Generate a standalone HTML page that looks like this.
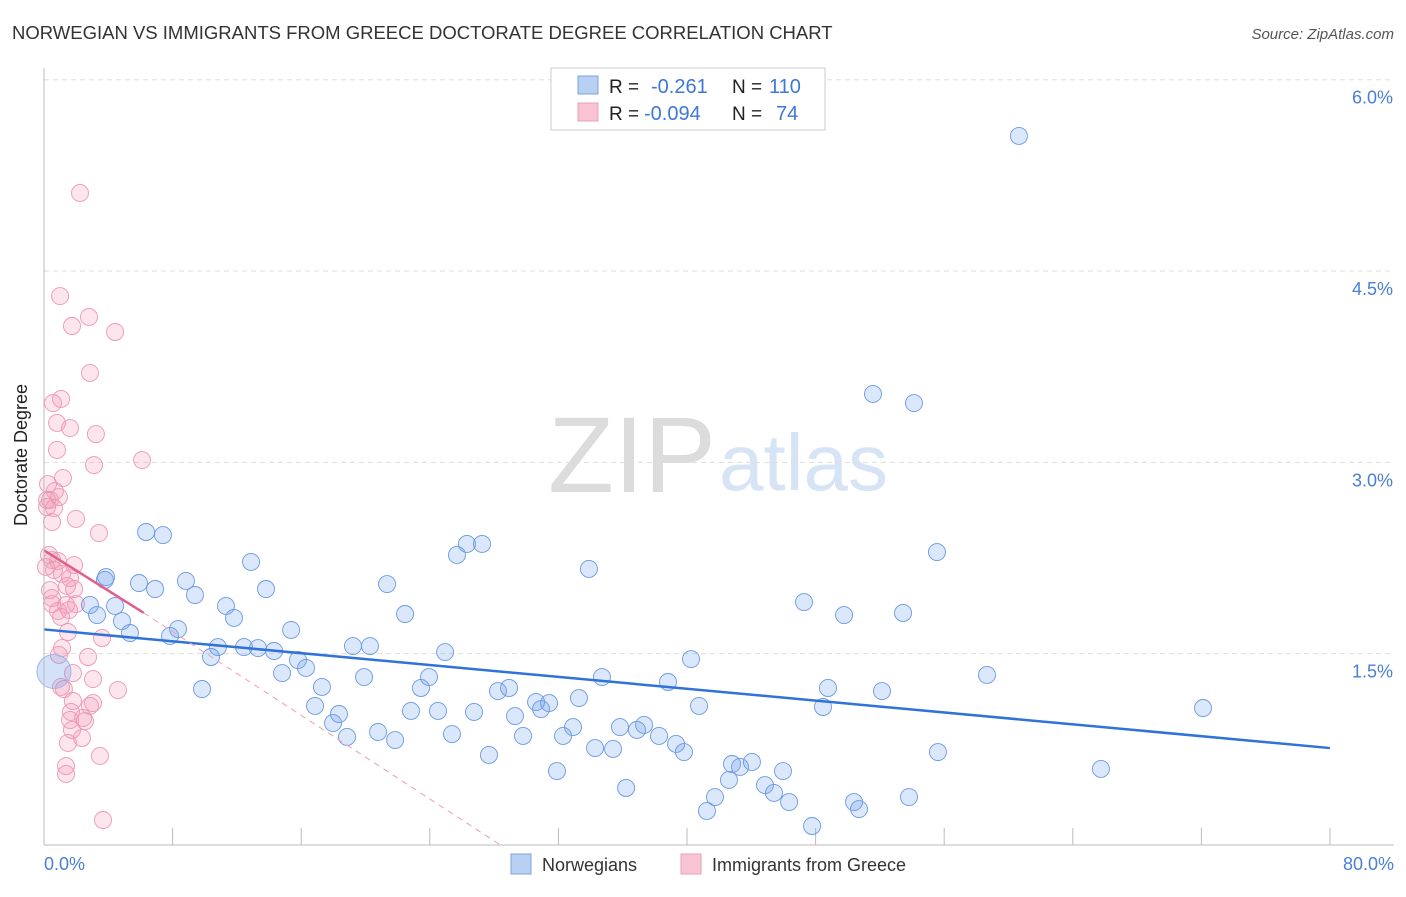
<!DOCTYPE html>
<html><head><meta charset="utf-8"><style>
body{margin:0;background:#fff;font-family:"Liberation Sans",sans-serif}
svg text{font-family:"Liberation Sans",sans-serif}
</style></head><body>
<svg id="c" width="1406" height="892">
<text x="12" y="39" font-size="18.5" fill="#333">NORWEGIAN VS IMMIGRANTS FROM GREECE DOCTORATE DEGREE CORRELATION CHART</text>
<text x="1394" y="39" font-size="15" fill="#555" font-style="italic" text-anchor="end">Source: ZipAtlas.com</text>
<text x="716" y="492" font-size="108" fill="#dcdcdc" font-family="Liberation Serif" text-anchor="end">ZIP</text>
<text x="719" y="490" font-size="80" fill="#d6e4f5">atlas</text>
<g id="grid"></g><g id="pts"></g><g id="lines"></g>
<line x1="44" y1="68" x2="44" y2="845" stroke="#bbb"/>
<line x1="44" y1="845" x2="1394" y2="845" stroke="#bbb"/>
<text x="27" y="455" font-size="18" fill="#222" text-anchor="middle" transform="rotate(-90 27 455)">Doctorate Degree</text>
<text x="44" y="870" font-size="18" fill="#4a7fd6">0.0%</text>
<text x="1394" y="870" font-size="18" fill="#4a7fd6" text-anchor="end">80.0%</text>
<g>
<rect x="551" y="68" width="274" height="62" fill="#fff" stroke="#ccc"/>
<rect x="578" y="76" width="20" height="18" fill="#b8d0f2" stroke="#7aa4e0"/>
<rect x="578" y="103" width="20" height="18" fill="#f8c4d4" stroke="#e9a0b8"/>
<text x="609" y="93" font-size="19" fill="#222">R =</text><text x="651" y="93" font-size="20" fill="#3d78d6">-0.261</text>
<text x="732" y="93" font-size="19" fill="#222">N =</text><text x="769" y="93" font-size="20" fill="#3d78d6">110</text>
<text x="609" y="120" font-size="19" fill="#222">R =</text><text x="644" y="120" font-size="20" fill="#3d78d6">-0.094</text>
<text x="732" y="120" font-size="19" fill="#222">N =</text><text x="776" y="120" font-size="20" fill="#3d78d6">74</text>
</g>
<g><rect x="511" y="854" width="20" height="20" fill="#b8d0f2" stroke="#7aa4e0"/><text x="542" y="871" font-size="18" fill="#333">Norwegians</text></g>
<g><rect x="681" y="854" width="20" height="20" fill="#f8c4d4" stroke="#e9a0b8"/><text x="712" y="871" font-size="18" fill="#333">Immigrants from Greece</text></g>
</svg>
<script>
const yTicks=[1.5,3.0,4.5,6.0];
const xTicks=[0,8,16,24,32,40,48,56,64,72,80];
const bluePx=[[1019,136],[873,394],[914,403],[937,552],[146,532],[163,535],[467,544],[482,544],[457,555],[589,569],[251,562],[387,584],[106,577],[139,583],[186,581],[266,589],[155,589],[195,595],[804,602],[844,615],[903,613],[90,605],[115,606],[97,615],[405,614],[226,606],[234,618],[122,621],[130,633],[178,629],[170,636],[291,630],[218,647],[244,647],[258,648],[274,651],[353,646],[370,646],[445,652],[211,657],[298,660],[306,668],[282,673],[364,677],[429,677],[602,677],[987,675],[691,659],[668,682],[322,687],[421,688],[498,691],[509,688],[202,689],[579,698],[828,688],[882,691],[536,702],[549,703],[315,706],[411,711],[438,711],[474,712],[541,709],[515,716],[699,706],[823,707],[1203,708],[339,714],[333,723],[378,732],[573,727],[620,727],[644,725],[637,730],[452,734],[523,736],[563,736],[659,736],[676,744],[347,737],[395,740],[595,748],[613,749],[684,752],[938,752],[489,755],[732,764],[740,767],[752,762],[557,771],[783,771],[1101,769],[729,780],[765,785],[626,788],[715,797],[774,793],[789,802],[909,797],[854,802],[859,809],[707,811],[812,826],[105,580]];
const pinkPx=[[80,193],[60,296],[72,326],[89,317],[115,332],[90,373],[61,399],[53,403],[57,423],[70,428],[96,434],[57,450],[142,460],[94,465],[63,478],[48,484],[55,491],[50,500],[59,497],[54,508],[47,507],[76,519],[52,522],[99,533],[49,555],[52,560],[58,561],[54,570],[62,574],[70,578],[74,565],[67,586],[74,589],[52,604],[66,605],[58,611],[69,610],[76,604],[61,617],[102,638],[62,648],[68,632],[59,655],[88,657],[73,673],[64,689],[93,679],[61,687],[73,701],[118,690],[93,703],[90,706],[71,712],[70,720],[83,718],[85,721],[72,730],[68,743],[82,738],[100,756],[66,766],[66,774],[103,820],[47,500],[52,598],[46,567],[50,590]];
const blueX=bluePx.map(p=>+((p[0]-44)/1286*80).toFixed(2));
const blueY=bluePx.map(p=>+((845-p[1])/765.3*6).toFixed(3));
const pinkX=pinkPx.map(p=>+((p[0]-44)/1286*80).toFixed(2));
const pinkY=pinkPx.map(p=>+((845-p[1])/765.3*6).toFixed(3));
const bigBlue=[0.62,1.36];
const blueTrend=[[0,1.69],[80,0.76]];
const pinkTrend=[[0,2.31],[6.2,1.82]];
const pinkDash=[[6.2,1.82],[28.4,0]];
const X=v=>44+v/80*1286, Y=v=>845-v/6*765.3;
const NS="http://www.w3.org/2000/svg";
function mk(t,a,p){const e=document.createElementNS(NS,t);for(const k in a)e.setAttribute(k,a[k]);document.getElementById(p).appendChild(e);return e;}
yTicks.forEach(v=>{
 const l=mk('line',{x1:44,x2:1394,y1:Y(v),y2:Y(v),stroke:'#ddd','stroke-dasharray':'5,4'},'grid');
 
 
 const t=mk('text',{x:1393,y:Y(v)+24,'font-size':18,fill:'#4a7fd6','text-anchor':'end'},'grid');t.textContent=v.toFixed(1)+'%';
 
 
});
xTicks.forEach(v=>{
 const l=mk('line',{x1:X(v),x2:X(v),y1:828,y2:845,stroke:'#bbb'},'grid');
 
 
});
pinkX.forEach((x,i)=>{
 const c=mk('circle',{cx:X(x),cy:Y(pinkY[i]),r:8.5,fill:'rgba(244,150,180,0.25)',stroke:'#ec98b4','stroke-width':0.9},'pts');
 
 
});
blueX.forEach((x,i)=>{
 const c=mk('circle',{cx:X(x),cy:Y(blueY[i]),r:8.5,fill:'rgba(110,160,235,0.25)',stroke:'#6a9ae2','stroke-width':0.9},'pts');
 
 
});
const bb=mk('circle',{cx:X(bigBlue[0]),cy:Y(bigBlue[1]),r:17,fill:'rgba(110,160,235,0.3)',stroke:'#9ab8e8'},'pts');


const bl=mk('line',{x1:X(blueTrend[0][0]),y1:Y(blueTrend[0][1]),x2:X(blueTrend[1][0]),y2:Y(blueTrend[1][1]),stroke:'#2f72d8','stroke-width':2.5},'lines');


const pl=mk('line',{x1:X(pinkTrend[0][0]),y1:Y(pinkTrend[0][1]),x2:X(pinkTrend[1][0]),y2:Y(pinkTrend[1][1]),stroke:'#e0608a','stroke-width':2.5},'lines');


const pd=mk('line',{x1:X(pinkDash[0][0]),y1:Y(pinkDash[0][1]),x2:X(pinkDash[1][0]),y2:Y(pinkDash[1][1]),stroke:'#eaa0b8','stroke-width':1,'stroke-dasharray':'6,5'},'lines');


</script>
</body></html>
